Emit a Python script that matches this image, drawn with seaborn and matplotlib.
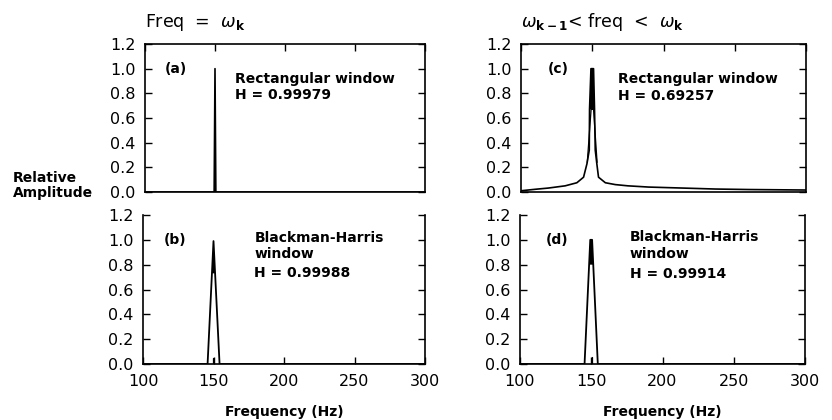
import matplotlib
matplotlib.use("Agg")
import matplotlib.pyplot as plt
import seaborn as sns
import pandas as pd

# ---------------- data ----------------
freq_a = [100, 149.4, 150.0, 150.6, 300]
amp_a = [0.0, 0.0, 1.00, 0.0, 0.0]

freq_b = [100, 145.8, 150.0, 154.3, 300]
amp_b = [0.0, 0.0, 0.99, 0.0, 0.0]
fill_b_freq = [148.9, 150.0, 151.1]
fill_b_amp = [0.73, 0.99, 0.73]
tick_b_freq = [149.7, 149.7]
tick_b_amp = [0.0, 0.05]

freq_c = [100, 110, 119.2, 131, 139.2, 143.9, 146.3, 147.9, 148.1, 149.1,
          150.9, 151.6, 152.1, 153.2, 154.4, 159.2, 166.2, 175, 189.6, 213.2,
          236.6, 260, 280, 300]
amp_c = [0.010, 0.022, 0.032, 0.050, 0.075, 0.12, 0.23, 0.34, 0.67, 1.00,
         1.00, 0.67, 0.34, 0.23, 0.12, 0.075, 0.060, 0.050, 0.040, 0.032,
         0.024, 0.020, 0.018, 0.016]
inner_c_freq = [146.5, 149.2, 150.9, 153.4]
inner_c_amp = [0.24, 0.67, 0.67, 0.24]
fill_c_freq = [148.1, 149.1, 150.9, 151.6]
fill_c_amp = [0.67, 1.00, 1.00, 0.67]

freq_d = [100, 145.3, 149.3, 150.6, 154.6, 300]
amp_d = [0.0, 0.0, 1.00, 1.00, 0.0, 0.0]
fill_d_freq = [148.5, 149.3, 150.6, 151.4]
fill_d_amp = [0.80, 1.00, 1.00, 0.80]
tick_d_freq = [150.2, 150.2]
tick_d_amp = [0.0, 0.06]

x_ticks = [100, 150, 200, 250, 300]
y_ticks = [0.0, 0.2, 0.4, 0.6, 0.8, 1.0, 1.2]

panel_labels = ["(a)", "(b)", "(c)", "(d)"]
window_texts = [
    ["Rectangular window", "H = 0.99979"],
    ["Blackman-Harris", "window", "H = 0.99988"],
    ["Rectangular window", "H = 0.69257"],
    ["Blackman-Harris", "window", "H = 0.99914"],
]
titles = [r"Freq  =  $\omega_{\mathbf{k}}$",
          r"$\omega_{\mathbf{k-1}}$< freq  <  $\omega_{\mathbf{k}}$"]

# ---------------- figure ----------------
sns.set_theme(style="ticks")
plt.rcParams["font.family"] = ["DejaVu Sans"]
plt.rcParams["mathtext.fontset"] = "dejavusans"
for k in ["text.color", "axes.labelcolor", "xtick.color", "ytick.color",
          "axes.edgecolor"]:
    plt.rcParams[k] = "black"

fig = plt.figure(figsize=(8.32, 4.2), dpi=100)
W, H = 832.0, 420.0

def rect(x0, x1, y0, y1):
    return [x0 / W, 1 - y1 / H, (x1 - x0) / W, (y1 - y0) / H]

ax_a = fig.add_axes(rect(145, 425, 44, 192))
ax_b = fig.add_axes(rect(143, 425, 215, 364))
ax_c = fig.add_axes(rect(521, 806, 44, 192))
ax_d = fig.add_axes(rect(520, 805, 215, 364))

lw = 1.2
blk = "black"

def line(ax, xs, ys, lw_=lw):
    df = pd.DataFrame({"f": xs, "a": ys})
    sns.lineplot(data=df, x="f", y="a", ax=ax, color=blk, lw=lw_,
                 sort=False, estimator=None)

line(ax_a, freq_a, amp_a)

line(ax_b, freq_b, amp_b, 1.3)
ax_b.fill(fill_b_freq, fill_b_amp, color=blk, lw=0)
line(ax_b, tick_b_freq, tick_b_amp, 0.9)

line(ax_c, freq_c, amp_c)
line(ax_c, inner_c_freq, inner_c_amp, 0.9)
ax_c.fill(fill_c_freq, fill_c_amp, color=blk, lw=0)

line(ax_d, freq_d, amp_d, 1.3)
ax_d.fill(fill_d_freq, fill_d_amp, color=blk, lw=0)
line(ax_d, tick_d_freq, tick_d_amp, 0.9)

axes = [ax_a, ax_b, ax_c, ax_d]
label_x = [114, 114.5, 119, 118]
text_x = [164, 179, 168, 177]
text_y = [[0.88, 0.75], [0.985, 0.85, 0.70], [0.88, 0.745], [0.99, 0.85, 0.69]]

tick_font = dict(family="DejaVu Sans", size=11.5, color=blk)
for i, ax in enumerate(axes):
    top = i in (0, 2)
    ax.set_xlim(100, 300)
    ax.set_ylim(0, 1.2)
    ax.set_xticks(x_ticks)
    ax.set_yticks(y_ticks)
    ax.set_yticklabels([f"{v:.1f}" for v in y_ticks], fontdict=tick_font)
    ax.set_xlabel("")
    ax.set_ylabel("")
    for s in ax.spines.values():
        s.set_color(blk)
        s.set_linewidth(1.2)
        s.set_visible(True)
    ax.tick_params(axis="y", direction="in", length=5, width=1.0,
                   left=True, right=True, pad=7, colors=blk)
    if top:
        ax.tick_params(axis="x", direction="in", length=5, width=1.0,
                       top=True, bottom=False, labelbottom=False, colors=blk)
    else:
        ax.spines["top"].set_visible(False)
        ax.tick_params(axis="x", direction="in", length=5, width=1.0,
                       top=False, bottom=True, labelbottom=True, pad=7,
                       colors=blk)
        ax.set_xticklabels([str(v) for v in x_ticks], fontdict=tick_font)
        ax.set_xlabel("Frequency (Hz)", fontsize=10, fontweight="bold",
                      labelpad=12, color=blk)
    ax.text(label_x[i], 1.0, panel_labels[i], fontsize=10, fontweight="bold",
            va="center", ha="left", color=blk)
    for t, yy in zip(window_texts[i], text_y[i]):
        ax.text(text_x[i], yy, t, fontsize=10, fontweight="bold",
                va="baseline", ha="left", color=blk)

ax_a.set_title(titles[0], loc="left", fontsize=12.5, pad=12, color=blk)
ax_c.set_title(titles[1], loc="left", fontsize=12.5, pad=12, color=blk)

fig.text(13 / W, 1 - 182 / H, "Relative", fontsize=10, fontweight="bold",
         va="baseline", ha="left", color=blk)
fig.text(13 / W, 1 - 197 / H, "Amplitude", fontsize=10, fontweight="bold",
         va="baseline", ha="left", color=blk)

fig.savefig("out.png", dpi=100, facecolor="white")
